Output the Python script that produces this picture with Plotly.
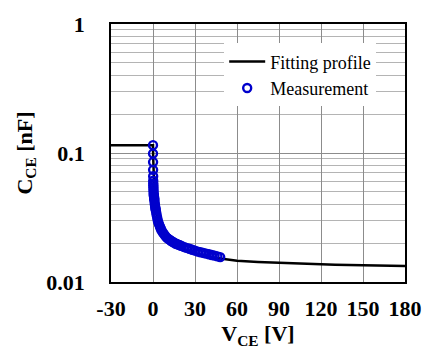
import plotly.graph_objects as go

# Collector-emitter capacitance vs. collector-emitter voltage
meas_v = [0, 0.02, 0.05, 0.08, 0.12, 0.16, 0.2, 0.25, 0.3, 0.35, 0.4, 0.5, 0.6,
          0.7, 0.8, 0.9, 1.0, 1.2, 1.4, 1.6, 1.8, 2.0, 2.3, 2.6, 3.0, 3.4, 3.8,
          4.3, 5.0, 5.5, 6.0, 7.0, 8.0, 9.0, 10, 11, 12, 13, 14, 15, 16, 17, 18,
          19, 20, 22, 24, 26, 28, 30, 32, 34, 36, 38, 40, 42, 44, 46, 48]
meas_c = [0.115, 0.099, 0.085, 0.074, 0.066, 0.061, 0.058, 0.056, 0.054, 0.052,
          0.050, 0.048, 0.047, 0.046, 0.045, 0.044, 0.043, 0.041, 0.0395, 0.038,
          0.037, 0.036, 0.0345, 0.033, 0.0315, 0.030, 0.029, 0.028, 0.0268,
          0.026, 0.0252, 0.0242, 0.0234, 0.0226, 0.0220, 0.0216, 0.0212, 0.0208,
          0.0205, 0.0202, 0.0199, 0.0197, 0.0195, 0.0193, 0.0191, 0.0187,
          0.0184, 0.0181, 0.0178, 0.0175, 0.0172, 0.0170, 0.0168, 0.0166,
          0.0164, 0.0162, 0.0160, 0.0158, 0.0156]

fit_v = [-30, 0, 0.1, 0.2, 0.4, 0.7, 1, 1.5, 2, 3, 4, 5, 7, 10, 15, 20, 25, 30,
         40, 50, 60, 75, 90, 110, 130, 150, 180]
fit_c = [0.115, 0.115, 0.095, 0.082, 0.068, 0.056, 0.049, 0.042, 0.037, 0.032,
         0.0290, 0.0268, 0.0240, 0.0220, 0.0198, 0.0184, 0.0174, 0.0166,
         0.0156, 0.0150, 0.0146, 0.0143, 0.0141, 0.0138, 0.0136, 0.0135, 0.0133]

x_ticks = [-30, 0, 30, 60, 90, 120, 150, 180]
x_tick_text = ["-30", "0", "30", "60", "90", "120", "150", "180"]
y_ticks = [0.01, 0.1, 1]
y_tick_text = ["0.01", "0.1", "1"]
y_minor = [m * d for d in (0.01, 0.1) for m in range(2, 10)]

FONT = "Liberation Serif, Times New Roman, serif"

fig = go.Figure()
fig.add_trace(go.Scatter(
    x=fit_v, y=fit_c, mode="lines", name="Fitting profile",
    line=dict(color="black", width=2.5),
))
fig.add_trace(go.Scatter(
    x=meas_v, y=meas_c, mode="markers", name="Measurement",
    marker=dict(symbol="circle-open", size=8, color="#0000cc",
                line=dict(color="#0000cc", width=2.4)),
))

fig.update_layout(
    width=434, height=349,
    margin=dict(l=111, r=18, t=17, b=65),
    paper_bgcolor="white", plot_bgcolor="white",
    font=dict(family=FONT, color="black"),
    showlegend=True,
    legend=dict(
        x=0.385, y=0.925, xanchor="left", yanchor="top",
        bgcolor="white", borderwidth=0,
        font=dict(family=FONT, size=18, color="black"),
        itemwidth=36, tracegroupgap=0,
    ),
    xaxis=dict(
        range=[-30, 180], tickvals=x_ticks, ticktext=x_tick_text, ticks="",
        showgrid=True, gridcolor="#8c8c8c", gridwidth=1,
        showline=True, linecolor="black", linewidth=1.5, mirror=True,
        zeroline=False,
        tickfont=dict(family=FONT, size=22, color="black", weight="bold"),
        ticklabelstandoff=6,
        title=dict(text="<b>V<sub>CE</sub> [V]</b>", standoff=0,
                   font=dict(family=FONT, size=22, color="black")),
    ),
    yaxis=dict(
        type="log", range=[-2, 0], tickvals=y_ticks, ticktext=y_tick_text,
        ticks="", showgrid=True, gridcolor="#8c8c8c", gridwidth=1,
        minor=dict(tickvals=y_minor, showgrid=True, gridcolor="#b4b4b4",
                   gridwidth=1, ticks=""),
        showline=True, linecolor="black", linewidth=1.5, mirror=True,
        zeroline=False,
        tickfont=dict(family=FONT, size=22, color="black", weight="bold"),
        ticklabelstandoff=20,
        title=dict(text="<b>C<sub>CE</sub> [nF]</b>", standoff=8,
                   font=dict(family=FONT, size=22, color="black")),
    ),
)

fig.write_html("out.html")
